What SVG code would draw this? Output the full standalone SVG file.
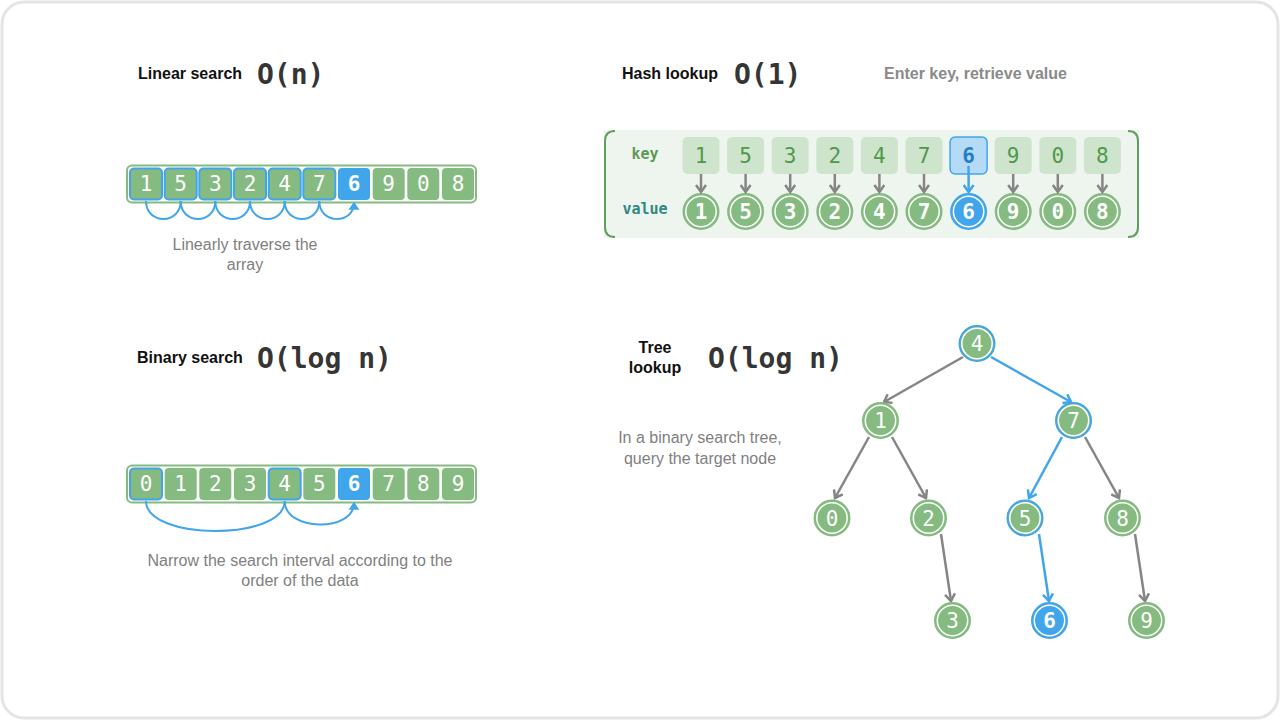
<svg xmlns="http://www.w3.org/2000/svg" width="1280" height="720" viewBox="0 0 1280 720">
<style>
.title{font-family:"Liberation Sans",Arial,sans-serif;font-weight:bold;font-size:16px;fill:#111}
.big{font-family:"DejaVu Sans Mono",monospace;font-weight:bold;font-size:28px;fill:#353535}
.note{font-family:"Liberation Sans",Arial,sans-serif;font-size:16px;fill:#808080;text-anchor:middle}
.cell{fill:#85ba80}
.cellb{fill:#85ba80;stroke:#41a5ec;stroke-width:2}
.cellh{fill:#41a5ec}
.d{font-family:"DejaVu Sans Mono",monospace;font-size:21px;fill:#fff;text-anchor:middle;dominant-baseline:central}
.dh{font-family:"DejaVu Sans Mono",monospace;font-size:21px;font-weight:bold;fill:#fff;text-anchor:middle;dominant-baseline:central}
.kc{fill:#cfe4cd}
.kd{font-family:"DejaVu Sans Mono",monospace;font-size:21px;fill:#4f9a4a;text-anchor:middle;dominant-baseline:central}
.nd{fill:#85ba80;stroke:#85ba80;stroke-width:2}
.ndb{fill:#85ba80;stroke:#41a5ec;stroke-width:2}
.ndh{fill:#41a5ec;stroke:#41a5ec;stroke-width:2}
.ring{fill:none;stroke:#fff;stroke-width:1.5}
.eg{stroke:#858585;stroke-width:2.5;fill:none;marker-end:url(#ag)}
.eb{stroke:#41a5ec;stroke-width:2.5;fill:none;marker-end:url(#ab)}
.arc{stroke:#41a5ec;stroke-width:2;fill:none}
</style>
<defs>
<marker id="ag" viewBox="-8 -6 10 12" refX="0" refY="0" markerWidth="10" markerHeight="12" markerUnits="userSpaceOnUse" orient="auto">
<path d="M-7,-5 L0,0 L-7,5" fill="none" stroke="#858585" stroke-width="2.5"/>
</marker>
<marker id="ab" viewBox="-8 -6 10 12" refX="0" refY="0" markerWidth="10" markerHeight="12" markerUnits="userSpaceOnUse" orient="auto">
<path d="M-7,-5 L0,0 L-7,5" fill="none" stroke="#41a5ec" stroke-width="2.5"/>
</marker>
<marker id="abs" viewBox="-8 -6 10 12" refX="0" refY="0" markerWidth="10" markerHeight="12" markerUnits="userSpaceOnUse" orient="auto">
<path d="M-6,-4 L0,0 L-6,4 Z" fill="#41a5ec" stroke="#41a5ec" stroke-width="1.5"/>
</marker>
</defs>

<rect x="2" y="2" width="1276" height="716" rx="22" fill="#fff" stroke="#e4e4e4" stroke-width="3"/>

<!-- Linear search -->
<g id="linear">
<text class="title" x="138" y="79">Linear search</text>
<text class="big" x="257" y="84">O(n)</text>
<rect x="127" y="165.5" width="349" height="37" rx="5" fill="#fff" stroke="#85ba80" stroke-width="2"/>
<rect class="cellb" x="130" y="168.5" width="32" height="31" rx="4"/><text class="d" x="146" y="184">1</text>
<rect class="cellb" x="164.7" y="168.5" width="32" height="31" rx="4"/><text class="d" x="180.7" y="184">5</text>
<rect class="cellb" x="199.3" y="168.5" width="32" height="31" rx="4"/><text class="d" x="215.3" y="184">3</text>
<rect class="cellb" x="234" y="168.5" width="32" height="31" rx="4"/><text class="d" x="250" y="184">2</text>
<rect class="cellb" x="268.7" y="168.5" width="32" height="31" rx="4"/><text class="d" x="284.7" y="184">4</text>
<rect class="cellb" x="303.3" y="168.5" width="32" height="31" rx="4"/><text class="d" x="319.3" y="184">7</text>
<rect class="cellh" x="338" y="168" width="32" height="32" rx="4"/><text class="dh" x="354" y="184">6</text>
<rect class="cell" x="372.7" y="168" width="32" height="32" rx="4"/><text class="d" x="388.7" y="184">9</text>
<rect class="cell" x="407.3" y="168" width="32" height="32" rx="4"/><text class="d" x="423.3" y="184">0</text>
<rect class="cell" x="442" y="168" width="32" height="32" rx="4"/><text class="d" x="458" y="184">8</text>
<text class="note" x="245" y="250">Linearly traverse the</text>
<text class="note" x="245" y="270">array</text>
</g>

<!-- Binary search -->
<g id="binary">
<text class="title" x="137" y="363">Binary search</text>
<text class="big" x="257" y="368">O(log n)</text>
<rect x="127" y="465.5" width="349" height="37" rx="5" fill="#fff" stroke="#85ba80" stroke-width="2"/>
<rect class="cellb" x="130" y="468.5" width="32" height="31" rx="4"/><text class="d" x="146" y="484">0</text>
<rect class="cell" x="164.7" y="468" width="32" height="32" rx="4"/><text class="d" x="180.7" y="484">1</text>
<rect class="cell" x="199.3" y="468" width="32" height="32" rx="4"/><text class="d" x="215.3" y="484">2</text>
<rect class="cell" x="234" y="468" width="32" height="32" rx="4"/><text class="d" x="250" y="484">3</text>
<rect class="cellb" x="268.7" y="468.5" width="32" height="31" rx="4"/><text class="d" x="284.7" y="484">4</text>
<rect class="cell" x="303.3" y="468" width="32" height="32" rx="4"/><text class="d" x="319.3" y="484">5</text>
<rect class="cellh" x="338" y="468" width="32" height="32" rx="4"/><text class="dh" x="354" y="484">6</text>
<rect class="cell" x="372.7" y="468" width="32" height="32" rx="4"/><text class="d" x="388.7" y="484">7</text>
<rect class="cell" x="407.3" y="468" width="32" height="32" rx="4"/><text class="d" x="423.3" y="484">8</text>
<rect class="cell" x="442" y="468" width="32" height="32" rx="4"/><text class="d" x="458" y="484">9</text>
<text class="note" x="300" y="566">Narrow the search interval according to the</text>
<text class="note" x="300" y="586">order of the data</text>
</g>

<!-- Hash lookup -->
<g id="hash">
<text class="title" x="622" y="79">Hash lookup</text>
<text class="big" x="734" y="84">O(1)</text>
<text x="884" y="79" style="font-family:'Liberation Sans',Arial,sans-serif;font-weight:bold;font-size:16px;fill:#8a8a8a">Enter key, retrieve value</text>
<rect x="604" y="130" width="535" height="108" fill="#eef5ee"/>
<path d="M615,131 Q605,131 605,141 L605,227 Q605,237 615,237" fill="none" stroke="#5f9e5b" stroke-width="2"/>
<path d="M1128,131 Q1138,131 1138,141 L1138,227 Q1138,237 1128,237" fill="none" stroke="#5f9e5b" stroke-width="2"/>
<text x="645" y="159" text-anchor="middle" style="font-family:'DejaVu Sans Mono',monospace;font-weight:bold;font-size:15px;fill:#5a9a55">key</text>
<text x="645" y="214" text-anchor="middle" style="font-family:'DejaVu Sans Mono',monospace;font-weight:bold;font-size:15px;fill:#2e8a83">value</text>
</g>
<g id="hash-keys">
<rect class="kc" x="682.5" y="137" width="37" height="37" rx="5"/><text class="kd" x="701" y="155.5">1</text>
<rect class="kc" x="727.1" y="137" width="37" height="37" rx="5"/><text class="kd" x="745.6" y="155.5">5</text>
<rect class="kc" x="771.7" y="137" width="37" height="37" rx="5"/><text class="kd" x="790.2" y="155.5">3</text>
<rect class="kc" x="816.3" y="137" width="37" height="37" rx="5"/><text class="kd" x="834.8" y="155.5">2</text>
<rect class="kc" x="860.9" y="137" width="37" height="37" rx="5"/><text class="kd" x="879.4" y="155.5">4</text>
<rect class="kc" x="905.5" y="137" width="37" height="37" rx="5"/><text class="kd" x="924" y="155.5">7</text>
<rect x="950.1" y="137" width="37" height="37" rx="5" fill="#b5daf6" stroke="#41a5ec" stroke-width="1.5"/><text class="kd" x="968.6" y="155.5" style="fill:#1f7fc8;font-weight:bold">6</text>
<rect class="kc" x="994.7" y="137" width="37" height="37" rx="5"/><text class="kd" x="1013.2" y="155.5">9</text>
<rect class="kc" x="1039.3" y="137" width="37" height="37" rx="5"/><text class="kd" x="1057.8" y="155.5">0</text>
<rect class="kc" x="1083.9" y="137" width="37" height="37" rx="5"/><text class="kd" x="1102.4" y="155.5">8</text>
</g>
<g id="hash-values">
<circle class="nd" cx="701" cy="211.5" r="17.5"/><circle class="ring" cx="701" cy="211.5" r="15.2"/><text class="d" x="701" y="212" style="font-weight:bold">1</text>
<circle class="nd" cx="745.6" cy="211.5" r="17.5"/><circle class="ring" cx="745.6" cy="211.5" r="15.2"/><text class="d" x="745.6" y="212" style="font-weight:bold">5</text>
<circle class="nd" cx="790.2" cy="211.5" r="17.5"/><circle class="ring" cx="790.2" cy="211.5" r="15.2"/><text class="d" x="790.2" y="212" style="font-weight:bold">3</text>
<circle class="nd" cx="834.8" cy="211.5" r="17.5"/><circle class="ring" cx="834.8" cy="211.5" r="15.2"/><text class="d" x="834.8" y="212" style="font-weight:bold">2</text>
<circle class="nd" cx="879.4" cy="211.5" r="17.5"/><circle class="ring" cx="879.4" cy="211.5" r="15.2"/><text class="d" x="879.4" y="212" style="font-weight:bold">4</text>
<circle class="nd" cx="924" cy="211.5" r="17.5"/><circle class="ring" cx="924" cy="211.5" r="15.2"/><text class="d" x="924" y="212" style="font-weight:bold">7</text>
<circle class="ndh" cx="968.6" cy="211.5" r="17.5"/><circle class="ring" cx="968.6" cy="211.5" r="15.2"/><text class="dh" x="968.6" y="212">6</text>
<circle class="nd" cx="1013.2" cy="211.5" r="17.5"/><circle class="ring" cx="1013.2" cy="211.5" r="15.2"/><text class="d" x="1013.2" y="212" style="font-weight:bold">9</text>
<circle class="nd" cx="1057.8" cy="211.5" r="17.5"/><circle class="ring" cx="1057.8" cy="211.5" r="15.2"/><text class="d" x="1057.8" y="212" style="font-weight:bold">0</text>
<circle class="nd" cx="1102.4" cy="211.5" r="17.5"/><circle class="ring" cx="1102.4" cy="211.5" r="15.2"/><text class="d" x="1102.4" y="212" style="font-weight:bold">8</text>
</g>

<!-- Tree lookup -->
<g id="tree-title">
<text class="title" x="655" y="353" text-anchor="middle">Tree</text>
<text class="title" x="655" y="373" text-anchor="middle">lookup</text>
<text class="big" x="708" y="368">O(log n)</text>
<text class="note" x="700" y="443">In a binary search tree,</text>
<text class="note" x="700" y="464">query the target node</text>
</g>

<g id="connectors">
<path class="arc" d="M146,201 C146,225 180.7,225 180.7,201"/>
<path class="arc" d="M180.7,201 C180.7,225 215.3,225 215.3,201"/>
<path class="arc" d="M215.3,201 C215.3,225 250,225 250,201"/>
<path class="arc" d="M250,201 C250,225 284.7,225 284.7,201"/>
<path class="arc" d="M284.7,201 C284.7,225 319.3,225 319.3,201"/>
<path class="arc" d="M319.3,201 C319.3,225 354,224 354,203" marker-end="url(#abs)"/>
<path class="arc" d="M146,501 C146,541 284.7,541 284.7,501"/>
<path class="arc" d="M284.7,501 C284.7,532 354,532 354,503" marker-end="url(#abs)"/>
<line class="eg" x1="701" y1="174" x2="701" y2="192"/>
<line class="eg" x1="745.6" y1="174" x2="745.6" y2="192"/>
<line class="eg" x1="790.2" y1="174" x2="790.2" y2="192"/>
<line class="eg" x1="834.8" y1="174" x2="834.8" y2="192"/>
<line class="eg" x1="879.4" y1="174" x2="879.4" y2="192"/>
<line class="eg" x1="924" y1="174" x2="924" y2="192"/>
<line class="eb" x1="968.6" y1="166" x2="968.6" y2="192"/>
<line class="eg" x1="1013.2" y1="174" x2="1013.2" y2="192"/>
<line class="eg" x1="1057.8" y1="174" x2="1057.8" y2="192"/>
<line class="eg" x1="1102.4" y1="174" x2="1102.4" y2="192"/>
<line class="eg" x1="963" y1="357" x2="884" y2="402"/>
<line class="eb" x1="991" y1="357" x2="1071" y2="402"/>
<line class="eg" x1="869" y1="437" x2="835" y2="498"/>
<line class="eg" x1="892" y1="437" x2="926" y2="498"/>
<line class="eb" x1="1062" y1="437" x2="1029" y2="498"/>
<line class="eg" x1="1085" y1="437" x2="1119" y2="498"/>
<line class="eg" x1="941" y1="534" x2="951" y2="601"/>
<line class="eb" x1="1039" y1="534" x2="1049" y2="601"/>
<line class="eg" x1="1135" y1="534" x2="1145" y2="601"/>
</g>

<g id="n4"><circle class="ndb" cx="977" cy="343.5" r="17.5"/><circle class="ring" cx="977" cy="343.5" r="15.2"/><text class="d" x="977" y="344">4</text></g>
<g id="n1"><circle class="nd" cx="880.5" cy="420.5" r="17.5"/><circle class="ring" cx="880.5" cy="420.5" r="15.2"/><text class="d" x="880.5" y="421">1</text></g>
<g id="n7"><circle class="ndb" cx="1073.5" cy="420.5" r="17.5"/><circle class="ring" cx="1073.5" cy="420.5" r="15.2"/><text class="d" x="1073.5" y="421">7</text></g>
<g id="n0"><circle class="nd" cx="832" cy="518" r="17.5"/><circle class="ring" cx="832" cy="518" r="15.2"/><text class="d" x="832" y="518.5">0</text></g>
<g id="n2"><circle class="nd" cx="928.5" cy="518" r="17.5"/><circle class="ring" cx="928.5" cy="518" r="15.2"/><text class="d" x="928.5" y="518.5">2</text></g>
<g id="n5"><circle class="ndb" cx="1025" cy="518" r="17.5"/><circle class="ring" cx="1025" cy="518" r="15.2"/><text class="d" x="1025" y="518.5">5</text></g>
<g id="n8"><circle class="nd" cx="1122.5" cy="518" r="17.5"/><circle class="ring" cx="1122.5" cy="518" r="15.2"/><text class="d" x="1122.5" y="518.5">8</text></g>
<g id="n3"><circle class="nd" cx="952.5" cy="620.5" r="17.5"/><circle class="ring" cx="952.5" cy="620.5" r="15.2"/><text class="d" x="952.5" y="621">3</text></g>
<g id="n6"><circle class="ndh" cx="1049.5" cy="620.5" r="17.5"/><circle class="ring" cx="1049.5" cy="620.5" r="15.2"/><text class="dh" x="1049.5" y="621">6</text></g>
<g id="n9"><circle class="nd" cx="1146.5" cy="620.5" r="17.5"/><circle class="ring" cx="1146.5" cy="620.5" r="15.2"/><text class="d" x="1146.5" y="621">9</text></g>
</svg>
